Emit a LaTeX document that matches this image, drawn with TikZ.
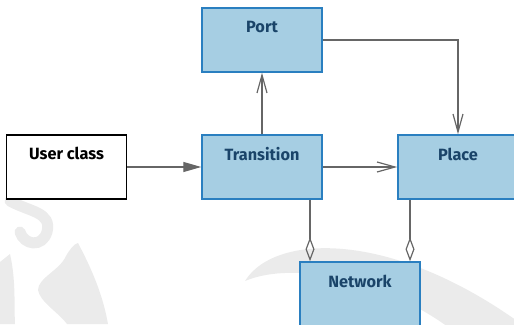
\documentclass[tikz,border=0pt]{standalone}
\usepackage{fontspec}
\setmainfont{Fira Sans}
\usetikzlibrary{arrows.meta}
\definecolor{boxfill}{HTML}{A6CEE3}
\definecolor{boxline}{HTML}{2A7FC0}
\definecolor{boxtext}{HTML}{1A4469}
\definecolor{wirecol}{HTML}{666666}
\definecolor{wmarkcol}{HTML}{EBEBEB}
\begin{document}
\begin{tikzpicture}[x=1pt,y=-1pt,
  cls/.style={draw=boxline, fill=boxfill, line width=1.5pt,
    minimum width=120pt, minimum height=64pt, inner sep=0pt},
  usercls/.style={cls, draw=black, fill=white},
  title/.style={font=\bfseries\fontsize{16.3}{18}\selectfont, text=boxtext, inner sep=0pt},
  wire/.style={draw=wirecol, line width=1.2pt},
  assoc/.style={wire, -{Straight Barb[length=18pt,width=10pt]}},
  inherit/.style={wire, -{Triangle[length=18pt,width=10pt,fill=wirecol]}},
  aggr/.style={wire, -{Diamond[open,length=24pt,width=9pt]}},
  wmark/.style={fill=wmarkcol, draw=none}]
\useasboundingbox (0,0) rectangle (514,324);
\clip (0,0) rectangle (514,324);

% faint background ornaments
\fill[wmark] (245,281) .. controls (275,232) and (400,228) .. (540,338)
  -- (470,345) .. controls (405,285) and (300,258) .. (245,281) -- cycle;
\fill[wmark] (78,243) .. controls (88,262) and (102,290) .. (108,324)
  -- (67,324) .. controls (58,312) and (40,302) .. (38,290)
  .. controls (38,278) and (60,270) .. (66,256) .. controls (70,249) and (74,244) .. (78,243) -- cycle;
\draw[wmarkcol, line width=11pt, line cap=round]
  (10,201) .. controls (30,212) and (52,212) .. (47,232)
  .. controls (42,248) and (24,245) .. (20,232);
\fill[wmark] (0,262) -- (10,254) .. controls (16,280) and (14,305) .. (15,324) -- (0,324) -- cycle;

% classes
\node[cls] (port) at (262,40) {};
\node[cls] (trans) at (262,167) {};
\node[cls] (place) at (458,167) {};
\node[cls] (net) at (360,294) {};
\node[usercls] (user) at (66.5,167) {};

\node[title] (portT) at ([yshift=-20pt]port.north) {Port};
\node[title] (transT) at ([yshift=-20pt]trans.north) {Transition};
\node[title] (placeT) at ([yshift=-20pt]place.north) {Place};
\node[title] (netT) at ([yshift=-20pt]net.north) {Network};
\node[title, text=black] (userT) at ([yshift=-19pt]user.north) {User class};

% relations
\draw[inherit] (user.east) -- (trans.west);
\draw[assoc] (trans.east) -- (place.west);
\draw[assoc] (trans.north) -- (port.south);
\draw[assoc] (port.east) -| (place.north);
\draw[aggr] ([xshift=48pt]trans.south) -- ([xshift=-50pt]net.north);
\draw[aggr] ([xshift=-48pt]place.south) -- ([xshift=50pt]net.north);
\end{tikzpicture}
\end{document}
